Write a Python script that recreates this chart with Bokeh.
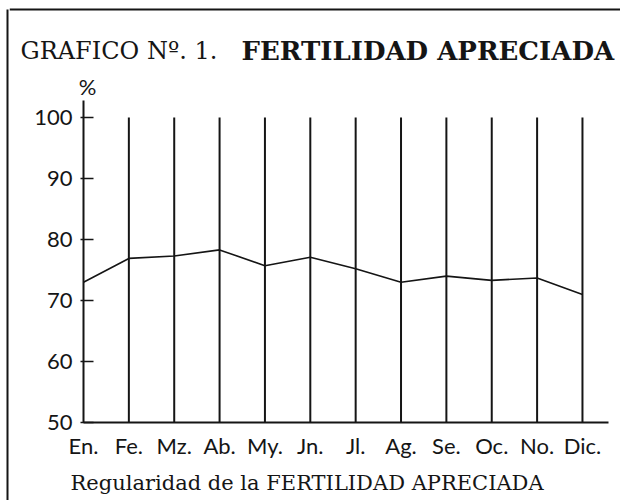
from bokeh.plotting import figure
from bokeh.models import Range1d, FixedTicker
from bokeh.layouts import column, row
from bokeh.core.properties import value
from bokeh.embed import file_html
from bokeh.resources import INLINE

months = ["En.", "Fe.", "Mz.", "Ab.", "My.", "Jn.", "Jl.", "Ag.", "Se.", "Oc.", "No.", "Dic."]
values = [73.0, 76.9, 77.3, 78.3, 75.7, 77.1, 75.2, 73.0, 74.0, 73.3, 73.7, 71.0]
y_ticks = [50, 60, 70, 80, 90, 100]
title_left = "GRAFICO Nº. 1."
title_bold = "FERTILIDAD APRECIADA"
unit_label = "%"
subtitle = "Regularidad de la FERTILIDAD APRECIADA"

INK = "#151515"
STRIP_W, MAIN_W = 9, 611
TOP_H, MAIN_H, BOT_H = 100, 365, 35
xs = list(range(len(months)))


def blank(w, h):
    f = figure(width=w, height=h, output_backend="svg", toolbar_location=None,
               x_range=Range1d(0, w), y_range=Range1d(h, 0),
               x_axis_location=None, y_axis_location=None,
               min_border=0, min_border_left=0, min_border_right=0,
               min_border_top=0, min_border_bottom=0)
    f.frame_align = False
    f.grid.visible = False
    f.outline_line_color = None
    f.background_fill_color = "white"
    f.border_fill_color = "white"
    return f


# left frame strip
strip = blank(STRIP_W, TOP_H + MAIN_H + BOT_H)
strip.segment(x0=[7], y0=[9], x1=[7], y1=[TOP_H + MAIN_H + BOT_H], line_color=INK, line_width=2)

# header with title
top = blank(MAIN_W, TOP_H)
top.segment(x0=[0], y0=[9], x1=[MAIN_W], y1=[9], line_color=INK, line_width=2)
top.text(x=[11], y=[50], text=[title_left], text_font=value("DejaVu Serif"),
         text_font_size=value("24px"), text_color=INK, text_baseline=value("middle"))
top.text(x=[232], y=[50], text=[title_bold], text_font=value("DejaVu Serif"),
         text_font_style=value("bold"), text_font_size=value("26px"), text_color=INK,
         text_baseline=value("middle"))
top.text(x=[78], y=[86], text=[unit_label], text_font=value("Lato"),
         text_font_size=value("22px"), text_color=INK, text_align=value("center"),
         text_baseline=value("middle"))

# main chart
p = figure(width=MAIN_W, height=MAIN_H, output_backend="svg", toolbar_location=None,
           x_range=Range1d(0, 11.574), y_range=Range1d(50, 102.79),
           min_border_left=74, min_border_right=12, min_border_top=0, min_border_bottom=43)
p.frame_align = False
p.outline_line_color = None
p.xgrid.visible = False
p.ygrid.visible = False
p.background_fill_color = "white"
p.border_fill_color = "white"

p.segment(x0=xs[1:], y0=[y_ticks[0]] * (len(xs) - 1), x1=xs[1:], y1=[y_ticks[-1]] * (len(xs) - 1),
          line_color=INK, line_width=2)
p.line(xs, values, line_color=INK, line_width=1.6)

p.yaxis.ticker = FixedTicker(ticks=y_ticks)
p.yaxis.axis_line_color = INK
p.yaxis.axis_line_width = 2
p.yaxis.major_tick_in = 10
p.yaxis.major_tick_out = 3
p.yaxis.major_tick_line_color = INK
p.yaxis.major_tick_line_width = 1.5
p.yaxis.minor_tick_line_color = None
p.yaxis.major_label_standoff = 8
p.yaxis.major_label_text_font = "Lato"
p.yaxis.major_label_text_font_size = "22px"
p.yaxis.major_label_text_color = INK

p.xaxis.ticker = FixedTicker(ticks=xs)
p.xaxis.major_label_overrides = {i: m for i, m in enumerate(months)}
p.xaxis.axis_line_color = INK
p.xaxis.axis_line_width = 2
p.xaxis.major_tick_line_color = None
p.xaxis.minor_tick_line_color = None
p.xaxis.major_label_standoff = 3
p.xaxis.major_label_text_font = "Lato"
p.xaxis.major_label_text_font_size = "22px"
p.xaxis.major_label_text_color = INK

# footer with subtitle
bot = blank(MAIN_W, BOT_H)
bot.text(x=[61], y=[17], text=[subtitle], text_font=value("DejaVu Serif"),
         text_font_size=value("21px"), text_color=INK, text_baseline=value("middle"))

layout = row(strip, column(top, p, bot, spacing=0), spacing=0)
open("out.html", "w").write(file_html(layout, INLINE))
